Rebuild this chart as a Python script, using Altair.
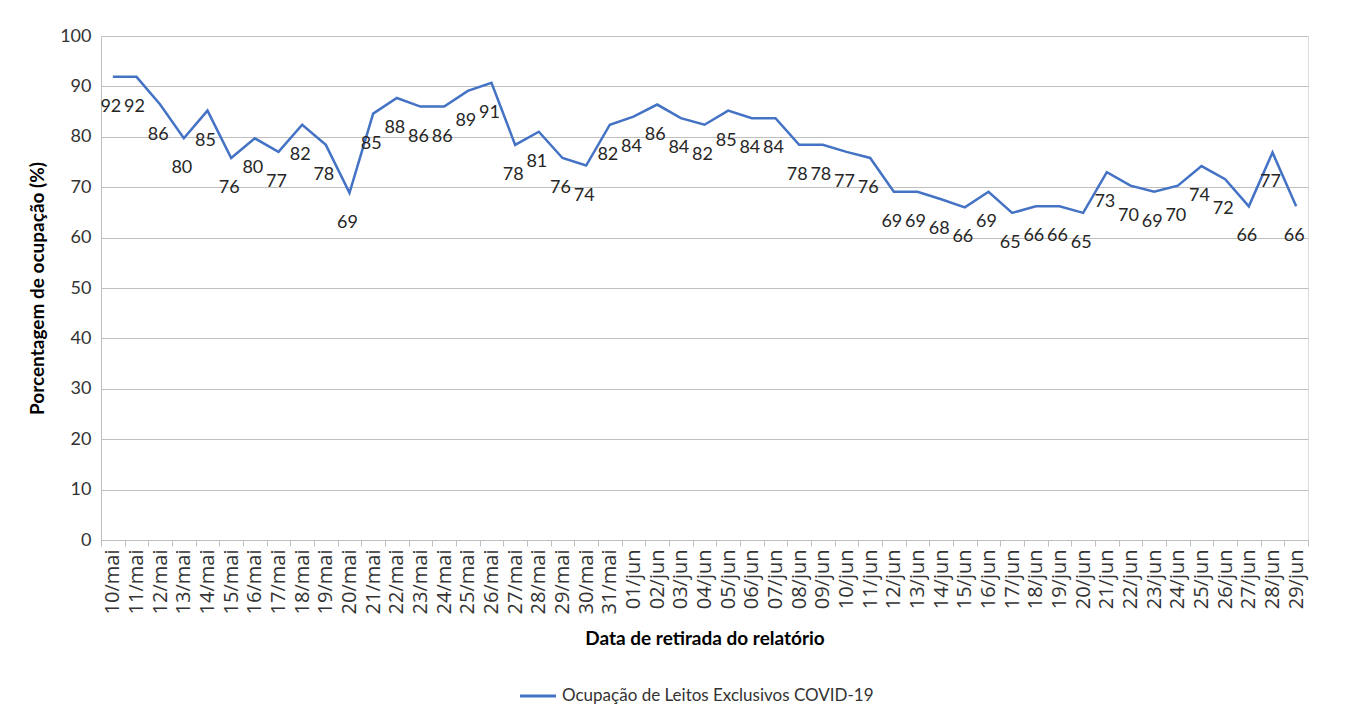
import altair as alt
import pandas as pd

dates = (
    [f"{d:02d}/mai" for d in range(10, 32)]
    + [f"{d:02d}/jun" for d in range(1, 30)]
)
values = [
    91.9, 91.9, 86.4, 79.7, 85.2, 75.8, 79.7, 77.0, 82.4, 78.4,
    68.9, 84.6, 87.7, 86.0, 86.0, 89.1, 90.7, 78.4, 81.0, 75.8,
    74.3, 82.4, 84.0, 86.4, 83.7, 82.4, 85.2, 83.7, 83.7, 78.4,
    78.4, 77.0, 75.8, 69.1, 69.1, 67.6, 66.0, 69.1, 64.9, 66.2,
    66.2, 64.9, 73.0, 70.3, 69.1, 70.3, 74.2, 71.6, 66.2, 76.9,
    66.2,
]
series = "Ocupação de Leitos Exclusivos COVID-19"

df = pd.DataFrame({"data": dates, "valor": values, "serie": series})

FONT = "Lato"
BLUE = "#4472C4"

x = alt.X(
    "data:O",
    sort=dates,
    scale=alt.Scale(type="band", paddingInner=0, paddingOuter=0),
    axis=alt.Axis(
        title="Data de retirada do relatório",
        labelAngle=270,
        labelAlign="right",
        labelBaseline="middle",
        labelFont="Open Sans",
        labelFontSize=20,
        labelColor="#333333",
        labelPadding=3,
        tickBand="extent",
        tickSize=6,
        tickColor="#bfbfbf",
        domainColor="#bfbfbf",
        grid=False,
        titleFont=FONT,
        titleFontSize=19,
        titleFontWeight="bold",
        titleColor="#000000",
        titlePadding=16,
    ),
)

y = alt.Y(
    "valor:Q",
    scale=alt.Scale(domain=[0, 100]),
    axis=alt.Axis(
        title="Porcentagem de ocupação (%)",
        values=list(range(0, 101, 10)),
        labelFont=FONT,
        labelFontSize=18,
        labelColor="#333333",
        labelPadding=10,
        ticks=False,
        domainColor="#bfbfbf",
        gridColor="#bfbfbf",
        titleFont=FONT,
        titleFontSize=19,
        titleFontWeight="bold",
        titleColor="#000000",
        titlePadding=12,
    ),
)

line = alt.Chart(df).mark_line(strokeWidth=2.5).encode(
    x=x,
    y=y,
    color=alt.Color(
        "serie:N",
        scale=alt.Scale(range=[BLUE]),
        legend=alt.Legend(
            title=None,
            orient="none",
            legendX=417,
            legendY=640,
            symbolType="stroke",
            symbolSize=1300,
            symbolStrokeWidth=3,
            labelFont=FONT,
            labelFontSize=17,
            labelColor="#333333",
            labelLimit=0,
        ),
    ),
)

labels = alt.Chart(df).mark_text(
    dy=30, dx=-2, font=FONT, fontSize=18, color="#262626"
).encode(
    x=alt.X("data:O", sort=dates),
    y="valor:Q",
    text=alt.Text("valor:Q", format=".0f"),
)

chart = (
    alt.layer(line, labels)
    .properties(
        width=1207,
        height=504,
        autosize=alt.AutoSizeParams(type="none"),
        padding={"left": 93, "top": 28, "right": 40, "bottom": 170},
    )
    .configure_view(stroke=None)
    .configure(background="white")
)

chart.save("out.html", embed_options={"renderer": "svg", "actions": False})
